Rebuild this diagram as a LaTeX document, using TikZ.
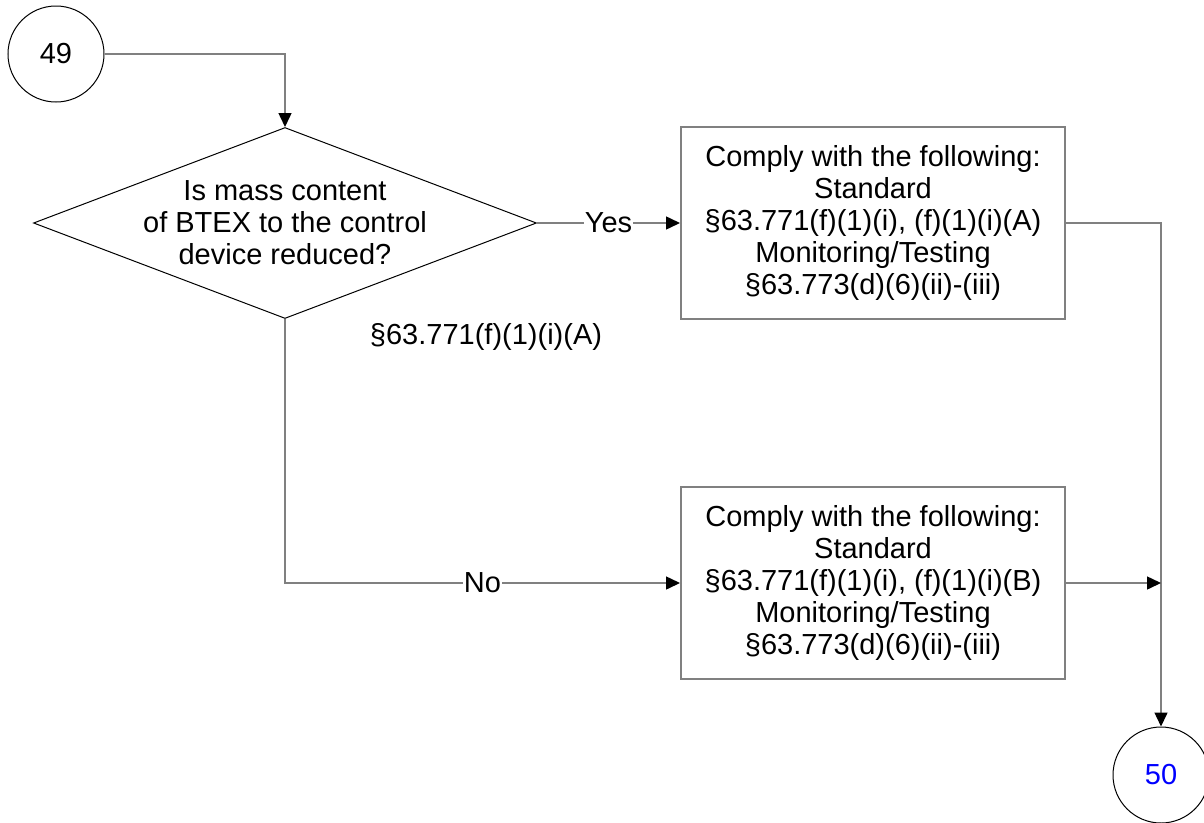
\documentclass[tikz,border=0pt]{standalone}
\usepackage{fontspec}
\setmainfont{Liberation Sans}
\usepackage{tikz}
\usetikzlibrary{arrows.meta,positioning,shapes.geometric}
\definecolor{ln}{RGB}{128,128,128}
\definecolor{cb}{RGB}{0,0,255}

\begin{document}
\begin{tikzpicture}[x=1pt,y=-1pt,
  font=\fontsize{29}{32}\selectfont,
  conn/.style={draw,circle,minimum size=96pt,inner sep=0pt,line width=1pt},
  decide/.style={draw,diamond,minimum width=503pt,minimum height=191pt,
                 inner sep=0pt,line width=1pt},
  action/.style={draw=ln,line width=2pt,minimum width=384pt,
                 minimum height=192pt,align=center},
  msg/.style={draw=ln,line width=1.5pt,-{Triangle[length=14pt,width=13pt,color=black]}},
  lbl/.style={fill=white,inner sep=1pt}
]
\clip (0,0) rectangle (1204,822);
\node[conn] (c49) at (56,54) {49};
\node[decide] (q) at (285,223) {};
\node[align=center] (qt) at (q.center) {Is mass content\\of BTEX to the control\\device reduced?};
\node (qref) at (486,337) {§63.771(f)(1)(i)(A)};
\node[action] (b1) at (873,223) {Comply with the following:\\Standard\\§63.771(f)(1)(i), (f)(1)(i)(A)\\Monitoring/Testing\\§63.773(d)(6)(ii)-(iii)};
\node[action] (b2) at (873,583) {Comply with the following:\\Standard\\§63.771(f)(1)(i), (f)(1)(i)(B)\\Monitoring/Testing\\§63.773(d)(6)(ii)-(iii)};
\node[conn,text=cb] (c50) at (1161,775) {50};
\draw[msg] (c49.east) -| (q.north);
\draw[msg] (q.east) -- node[lbl]{Yes} (b1.west);
\draw[msg] (q.south) |- node[lbl,pos=0.75]{No} (b2.west);
\draw[msg] (b1.east) -| (c50.north);
\draw[msg] (b2.east) -- (b2.east -| c50.north);
\end{tikzpicture}
\end{document}
